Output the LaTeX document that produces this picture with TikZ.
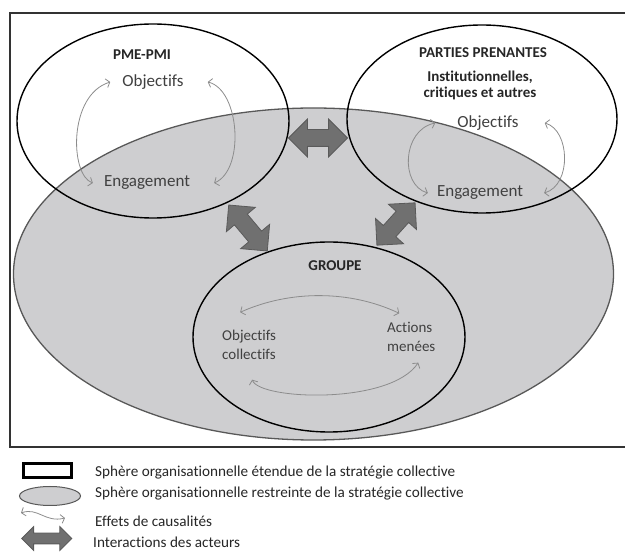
\documentclass[tikz,border=0pt]{standalone}
\usepackage{fontspec}
\setmainfont{Carlito}[Ligatures=NoCommon]
\usetikzlibrary{shapes.geometric,shapes.arrows,arrows.meta,positioning}

\definecolor{sphereGray}{RGB}{206,206,208}
\definecolor{sphereLine}{RGB}{88,88,88}
\definecolor{actorGray}{RGB}{112,112,112}
\definecolor{labelGray}{RGB}{64,64,64}
\definecolor{causalGray}{RGB}{140,140,140}

\tikzset{
  sphere/.style={ellipse, draw=black, line width=1.4pt, inner sep=0pt},
  spheregrise/.style={ellipse, draw=sphereLine, fill=sphereGray, line width=1.3pt, inner sep=0pt},
  interaction/.style={double arrow, draw=actorGray!80!black, fill=actorGray, line width=0.8pt,
    inner xsep=0pt, inner ysep=8pt, double arrow head extend=10.5pt, minimum height=59pt},
  causal/.style={draw=causalGray, line width=0.8pt, >={Straight Barb[length=3.5pt,width=9pt]}, <->},
  titre/.style={font=\fontsize{15}{16}\selectfont\bfseries, text=black!85, inner sep=1pt, align=center},
  acteur/.style={font=\fontsize{17}{20}\selectfont, text=labelGray, inner sep=2pt},
  petit/.style={font=\fontsize{15}{18.5}\selectfont, text=labelGray, inner sep=1pt, align=left, anchor=west},
  legende/.style={font=\fontsize{15.2}{17}\selectfont, text=black!85, anchor=west, inner sep=0pt},
}

\begin{document}
\begin{tikzpicture}[x=1pt,y=-1pt]
  \clip (0,0) rectangle (625,553);

  % sphere etendue (cadre ouvert a droite)
  \draw[line width=2pt, black!80] (640,13) -- (10,13) -- (10,447) -- (640,447);

  % sphere restreinte
  \node[spheregrise, minimum width=600pt, minimum height=332pt] (restreinte) at (313.5,274) {};

  % les trois acteurs
  \node[sphere, minimum width=272pt, minimum height=194pt] (pme) at (153,121) {};
  \node[sphere, minimum width=270pt, minimum height=188pt] (parties) at (482,119) {};
  \node[sphere, minimum width=272pt, minimum height=190pt] (groupe) at (329,337) {};

  \node[titre] (pmeTitre) at (142,55) {PME-PMI};
  \node[acteur] (pmeObj) at (153,82) {Objectifs};
  \node[acteur] (pmeEng) at (147,183) {Engagement};

  \node[titre] (ppTitre) at (483,53) {PARTIES PRENANTES};
  \node[titre] (ppType) at (480,85) {Institutionnelles,\\critiques et autres};
  \node[acteur] (ppObj) at (488,123) {Objectifs};
  \node[acteur] (ppEng) at (480,193) {Engagement};

  \node[titre] (grTitre) at (335,266) {GROUPE};
  \node[petit] (grObj) at (221,345) {Objectifs\\collectifs};
  \node[petit] (grAct) at (386,337) {Actions\\menées};

  % interactions des acteurs
  \node[interaction] (i1) at (318,138) {};
  \node[interaction, rotate=-50, minimum height=60pt] (i2) at (248,228) {};
  \node[interaction, rotate=48, minimum height=57pt] (i3) at (396,224) {};

  % effets de causalites
  \draw[causal] ([xshift=-9pt]pmeEng.west) .. controls (70,175) and (68,95) .. ([xshift=-10pt]pmeObj.west);
  \draw[causal] ([xshift=22pt]pmeObj.east) .. controls (240,90) and (245,170) .. ([xshift=22pt]pmeEng.east);
  \draw[causal] ([xshift=-7pt]ppEng.west) .. controls (400,185) and (402,130) .. ([xshift=-20pt]ppObj.west);
  \draw[causal] ([xshift=24pt]ppObj.east) .. controls (570,130) and (572,185) .. ([xshift=19pt]ppEng.east);
  \draw[causal] ([xshift=-9pt,yshift=17pt]grObj.north) .. controls (290,290) and (350,290) .. ([xshift=-12pt,yshift=8pt]grAct.north);
  \draw[causal] ([xshift=3pt,yshift=-19pt]grObj.south) .. controls (260,400) and (390,405) .. ([xshift=7pt,yshift=-10pt]grAct.south);

  % legende
  \node[draw=black, line width=3pt, minimum width=48pt, minimum height=13.5pt, inner sep=0pt] (lgEtendue) at (47.2,470.7) {};
  \node[spheregrise, line width=1pt, minimum width=61pt, minimum height=19pt] (lgRestreinte) at (50,496) {};
  \coordinate (lgCausalA) at (21,513);
  \coordinate (lgCausalB) at (65,518);
  \draw[causal] (lgCausalA) .. controls (38,507) and (45,523) .. (lgCausalB);
  \node[interaction, minimum height=50pt, inner ysep=5pt, double arrow head extend=6.5pt] (lgInteraction) at (46.7,538.5) {};

  \node[legende] (txEtendue) at (95,473) {Sphère organisationnelle étendue de la stratégie collective};
  \node[legende] (txRestreinte) at (95,494) {Sphère organisationnelle restreinte de la stratégie collective};
  \node[legende] (txCausal) at (95,521) {Effets de causalités};
  \node[legende] (txInteraction) at (93,542) {Interactions des acteurs};
\end{tikzpicture}
\end{document}
